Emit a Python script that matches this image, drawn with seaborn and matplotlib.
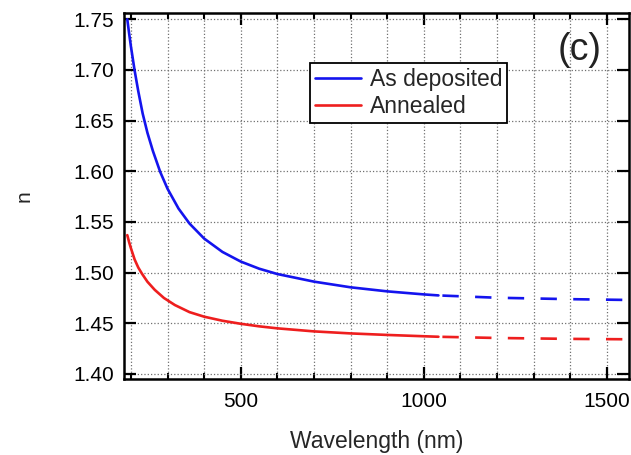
"""Refractive index dispersion: as-deposited vs annealed film."""

import matplotlib

matplotlib.use("Agg")
import matplotlib.pyplot as plt
from matplotlib.ticker import MultipleLocator, FormatStrFormatter
import pandas as pd
import seaborn as sns

# values (wavelength nm, n)
WL_DEPOSITED = [190, 195, 200, 210, 220, 232, 245, 260, 280, 300, 330, 360, 400,
                450, 500, 550, 600, 700, 800, 900, 1000, 1040]
N_DEPOSITED = [1.750, 1.736, 1.723, 1.6995, 1.679, 1.657, 1.638, 1.620, 1.5993,
               1.5827, 1.5632, 1.5484, 1.5336, 1.5204, 1.5109, 1.5039, 1.4986,
               1.4911, 1.4855, 1.4815, 1.4785, 1.4775]

WL_ANNEALED = [190, 195, 200, 210, 220, 230, 245, 265, 290, 320, 360, 400, 450,
               500, 550, 600, 700, 800, 900, 1000, 1040]
N_ANNEALED = [1.537, 1.530, 1.524, 1.513, 1.505, 1.499, 1.491, 1.483, 1.475,
              1.468, 1.461, 1.4565, 1.4525, 1.4495, 1.447, 1.445, 1.442, 1.440,
              1.4385, 1.4372, 1.4367]

WL_EXTRAP = [1040, 1200, 1400, 1560]
N_DEPOSITED_EXTRAP = [1.4775, 1.4752, 1.4738, 1.4730]
N_ANNEALED_EXTRAP = [1.4367, 1.4355, 1.4346, 1.4342]

LABELS = ["As deposited", "Annealed"]
COLORS = ["#1414ee", "#ee1e1e"]


def main() -> None:
    sns.set_theme(style="ticks")
    plt.rcParams["font.family"] = ["Liberation Sans", "DejaVu Sans"]

    measured = [
        pd.DataFrame({"wl": WL_DEPOSITED, "n": N_DEPOSITED}),
        pd.DataFrame({"wl": WL_ANNEALED, "n": N_ANNEALED}),
    ]
    extrap = [
        pd.DataFrame({"wl": WL_EXTRAP, "n": N_DEPOSITED_EXTRAP}),
        pd.DataFrame({"wl": WL_EXTRAP, "n": N_ANNEALED_EXTRAP}),
    ]

    fig = plt.figure(figsize=(6.31, 4.55), dpi=100)
    ax = fig.add_axes([0.1965, 0.167, 0.800, 0.804])

    for df, ext, label, color in zip(measured, extrap, LABELS, COLORS):
        sns.lineplot(data=df, x="wl", y="n", color=color, lw=1.9, ax=ax,
                     label=label, sort=False)
        # extrapolated part drawn dashed, starting with a short gap
        sns.lineplot(data=ext, x="wl", y="n", color=color, lw=1.9, ax=ax,
                     linestyle=(10.9, (6.2, 6.2)), label="_nolegend_", sort=False)

    ax.set_xlim(181, 1560)
    ax.set_ylim(1.395, 1.756)
    ax.xaxis.set_major_locator(MultipleLocator(500))
    ax.xaxis.set_minor_locator(MultipleLocator(100))
    ax.yaxis.set_major_locator(MultipleLocator(0.05))
    ax.yaxis.set_major_formatter(FormatStrFormatter("%.2f"))

    ax.grid(which="both", axis="x", ls=":", color="#707070", lw=0.9)
    ax.grid(which="major", axis="y", ls=":", color="#707070", lw=0.9)
    ax.set_axisbelow(True)

    ax.tick_params(which="both", direction="in", top=True, right=True,
                   labelsize=15, colors="black")
    ax.tick_params(which="major", length=8.5, width=1.6)
    ax.tick_params(which="minor", length=4, width=1.5)
    ax.tick_params(axis="x", which="major", pad=9)
    ax.tick_params(axis="y", which="major", pad=7)
    for spine in ax.spines.values():
        spine.set_linewidth(1.8)
        spine.set_color("black")

    ax.set_xlabel("Wavelength (nm)", fontsize=16.5, labelpad=14)
    ax.set_ylabel("n", fontsize=15, labelpad=28.5)

    ax.text(0.903, 0.899, "(c)", transform=ax.transAxes, fontsize=27,
            ha="center", va="center", color="#222222")

    leg = ax.legend(loc="upper left", bbox_to_anchor=(0.368, 0.863), fontsize=16.5,
                    frameon=True, fancybox=False, handlelength=2.0,
                    borderpad=0.22, labelspacing=0.15, handletextpad=0.4,
                    borderaxespad=0)
    leg.get_frame().set_edgecolor("black")
    leg.get_frame().set_linewidth(1.3)
    leg.get_frame().set_alpha(1)

    fig.savefig("out.png", dpi=100)
    plt.close(fig)


if __name__ == "__main__":
    main()
